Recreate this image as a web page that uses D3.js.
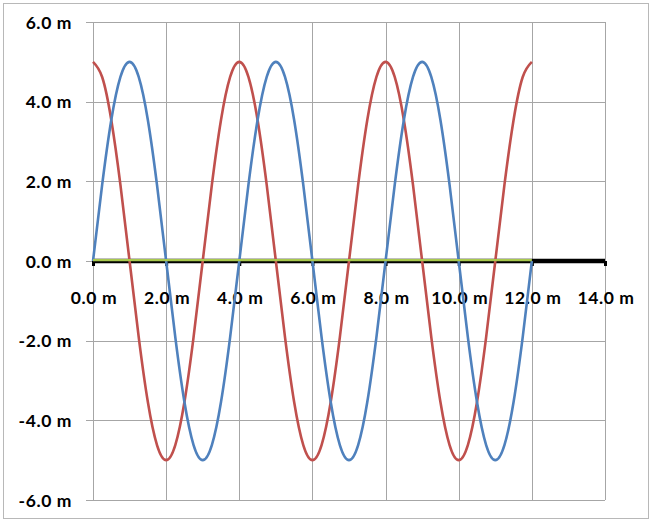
<!DOCTYPE html>
<html><head><meta charset="utf-8">
<script src="https://cdn.jsdelivr.net/npm/d3@7"></script>
<style>html,body{margin:0;padding:0;background:#fff}svg{display:block}</style>
</head><body>
<svg id="c" width="654" height="523"></svg>
<script>
// x positions (m)
const xValues = [0,0.25,0.5,0.75,1,1.25,1.5,1.75,2,2.25,2.5,2.75,3,3.25,3.5,3.75,4,4.25,4.5,4.75,5,5.25,5.5,5.75,6,6.25,6.5,6.75,7,7.25,7.5,7.75,8,8.25,8.5,8.75,9,9.25,9.5,9.75,10,10.25,10.5,10.75,11,11.25,11.5,11.75,12];
// blue series (m)
const blueValues = [0,1.91,3.54,4.62,5,4.62,3.54,1.91,0,-1.91,-3.54,-4.62,-5,-4.62,-3.54,-1.91,
  0,1.91,3.54,4.62,5,4.62,3.54,1.91,0,-1.91,-3.54,-4.62,-5,-4.62,-3.54,-1.91,
  0,1.91,3.54,4.62,5,4.62,3.54,1.91,0,-1.91,-3.54,-4.62,-5,-4.62,-3.54,-1.91,0];
// red series (m)
const redValues = [5,4.62,3.54,1.91,0,-1.91,-3.54,-4.62,-5,-4.62,-3.54,-1.91,0,1.91,3.54,4.62,
  5,4.62,3.54,1.91,0,-1.91,-3.54,-4.62,-5,-4.62,-3.54,-1.91,0,1.91,3.54,4.62,
  5,4.62,3.54,1.91,0,-1.91,-3.54,-4.62,-5,-4.62,-3.54,-1.91,0,1.91,3.54,4.62,5];
// green series (flat)
const greenX = [0,12];
const greenValues = [0,0];
const xTicks = [0,2,4,6,8,10,12,14];
const yTicks = [-6,-4,-2,0,2,4,6];

const svg = d3.select("#c");
const fmt = v => v.toFixed(1) + " m";
const x = d3.scaleLinear().domain([0,14]).range([93,605]);
const y = d3.scaleLinear().domain([-6,6]).range([500,22]);
const FONT = "Lato, 'Open Sans', sans-serif";

svg.append("rect").attr("x",3.5).attr("y",3.5).attr("width",645).attr("height",515)
  .attr("fill","#fff").attr("stroke","#b8b8b8").attr("stroke-width",1);

// gridlines
svg.append("g").selectAll("line").data(yTicks).join("line")
  .attr("x1",86).attr("x2",x(14)).attr("y1",d=>Math.round(y(d))+0.5).attr("y2",d=>Math.round(y(d))+0.5)
  .attr("stroke","#a6a6a6").attr("stroke-width",1);
svg.append("g").selectAll("line").data(xTicks).join("line")
  .attr("x1",d=>Math.round(x(d))+0.5).attr("x2",d=>Math.round(x(d))+0.5).attr("y1",y(6)).attr("y2",y(-6))
  .attr("stroke","#a6a6a6").attr("stroke-width",1);

// y labels
svg.append("g").selectAll("text").data(yTicks).join("text")
  .attr("x",72).attr("y",d=>y(d)+6.5).attr("text-anchor","end")
  .attr("font-family",FONT).attr("font-weight","bold")
  .attr("font-size",17.5).attr("letter-spacing","0.6px").attr("fill","#000").text(fmt);

// x axis (thick black)
const xAxis = d3.axisBottom(x).tickValues(xTicks).tickSize(5).tickFormat("");
const ax = svg.append("g").attr("transform",`translate(0,${y(0)})`).call(xAxis);
ax.select(".domain").attr("stroke","#000").attr("stroke-width",4.5).attr("d",`M${x(0)},0H${x(14)}`);
ax.selectAll(".tick line").attr("stroke","#000").attr("stroke-width",3);

// x labels
svg.append("g").selectAll("text").data(xTicks).join("text")
  .attr("x",d=>x(d)+1).attr("y",303.5).attr("text-anchor","middle")
  .attr("font-family",FONT).attr("font-weight","bold")
  .attr("font-size",17.5).attr("letter-spacing","0.6px").attr("fill","#000").text(fmt);

const line = d3.line().x(d=>x(d[0])).y(d=>y(d[1])).curve(d3.curveNatural);
svg.append("path").datum(xValues.map((v,i)=>[v,redValues[i]]))
  .attr("d",line).attr("fill","none").attr("stroke","#c0504d").attr("stroke-width",2.6);
svg.append("path").datum(xValues.map((v,i)=>[v,blueValues[i]]))
  .attr("d",line).attr("fill","none").attr("stroke","#4f81bd").attr("stroke-width",2.6);
svg.append("path").datum(greenX.map((v,i)=>[v,greenValues[i]]))
  .attr("d",d3.line().x(d=>x(d[0])).y(d=>y(d[1])-0.8)).attr("fill","none").attr("stroke","#a8c84e").attr("stroke-width",2.2);
</script>
</body></html>
